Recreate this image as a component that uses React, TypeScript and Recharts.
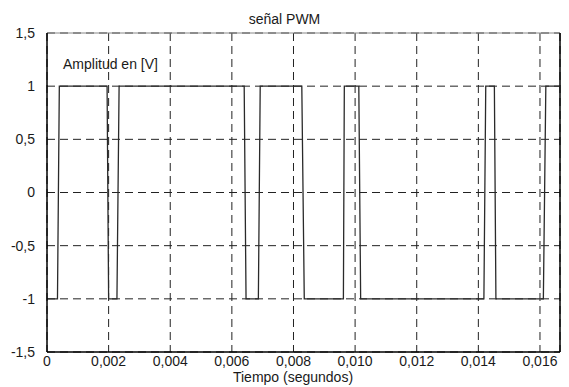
import React from 'react'
import { LineChart, Line, XAxis, YAxis, CartesianGrid, ReferenceLine } from 'recharts'

// PWM signal: switching instants (s) and levels (V)
const timeValues = [
  0, 0.00034, 0.0004, 0.00195, 0.002, 0.00227, 0.00234, 0.0064, 0.00646, 0.00686, 0.00692,
  0.00827, 0.00835, 0.00962, 0.00965, 0.01012, 0.01018, 0.01418, 0.01424, 0.01452, 0.01457,
  0.01611, 0.01619, 0.01665,
]
const amplitudeValues = [
  -1, -1, 1, 1, -1, -1, 1, 1, -1, -1, 1,
  1, -1, -1, 1, 1, -1, -1, 1, 1, -1,
  -1, 1, 1,
]
const xTicks = [0, 0.002, 0.004, 0.006, 0.008, 0.01, 0.012, 0.014, 0.016]
const yTicks = [-1.5, -1, -0.5, 0, 0.5, 1, 1.5]
const xMax = 0.01665

const data = timeValues.map((t, i) => ({ t, v: amplitudeValues[i] }))

const fmtX = (v: number) => (v === 0 ? '0' : v.toFixed(3).replace('.', ','))
const fmtY = (v: number) => String(v).replace('.', ',')

const font = '"Liberation Sans", Arial, Helvetica, sans-serif'
const tickStyle = { fontSize: 14, fill: '#1a1a1a', fontFamily: font }

export default function App() {
  return (
    <div style={{ position: 'absolute', left: 0, top: 0, width: 569, height: 387, background: '#fff', fontFamily: font }}>
      <LineChart width={569} height={387} data={data} margin={{ top: 33, right: 9, left: 7, bottom: 15 }}>
        <CartesianGrid strokeDasharray="8 5" stroke="#222" strokeWidth={1} />
        <XAxis
          dataKey="t"
          type="number"
          domain={[0, xMax]}
          ticks={xTicks}
          tickFormatter={fmtX}
          allowDataOverflow
          height={20}
          tickLine={false}
          tickSize={4}
          tickMargin={0}
          stroke="#000"
          strokeWidth={1.5}
          tick={tickStyle}
        />
        <YAxis
          type="number"
          domain={[-1.5, 1.5]}
          ticks={yTicks}
          tickFormatter={fmtY}
          width={40}
          tickLine={false}
          tickMargin={6}
          stroke="#000"
          strokeWidth={1.5}
          tick={tickStyle}
        />
        <ReferenceLine y={1.5} stroke="#888" strokeWidth={1} />
        <ReferenceLine x={xMax} stroke="#000" strokeWidth={1.5} />
        <Line type="linear" dataKey="v" stroke="#2a2a2a" strokeWidth={1.3} dot={false} isAnimationActive={false} />
      </LineChart>
      <div style={{ position: 'absolute', left: 0, width: 569, top: 11, textAlign: 'center', fontSize: 14, color: '#1a1a1a' }}>
        señal PWM
      </div>
      <div style={{ position: 'absolute', left: 63, top: 56, fontSize: 14, color: '#1a1a1a' }}>Amplitud en [V]</div>
      <div style={{ position: 'absolute', left: 193, width: 200, top: 369, textAlign: 'center', fontSize: 14, lineHeight: '16px', color: '#1a1a1a' }}>
        Tiempo (segundos)
      </div>
    </div>
  )
}
